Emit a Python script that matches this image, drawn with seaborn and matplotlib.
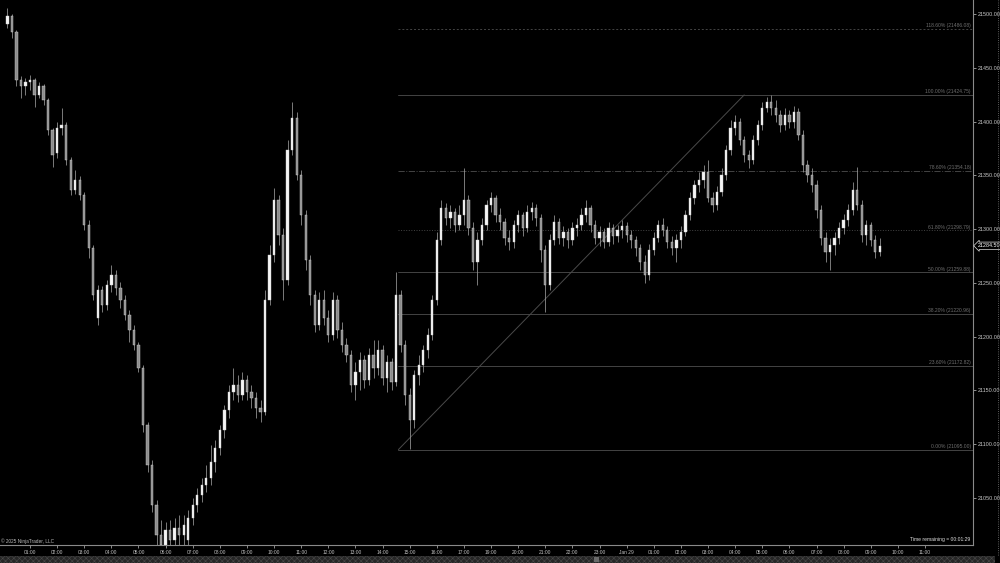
import numpy as np
import pandas as pd
import matplotlib
matplotlib.use("Agg")
import matplotlib.pyplot as plt
import seaborn as sns
from matplotlib.patches import Rectangle
from matplotlib.lines import Line2D

# ---------------- data (NQ 10-minute bars) ----------------
day1_open = [
    21490.75, 21498, 21483.25, 21438.5, 21433, 21436.75, 21438.5, 21424.75, 21433, 21420,
    21392, 21370.75, 21394, 21396.75, 21364.25, 21336.25, 21345.5, 21331.75, 21303.75, 21282.5,
    21217.25, 21243.25, 21229.5, 21248, 21257.25, 21245.25, 21234, 21220, 21206, 21192.25,
    21170.75, 21117.75, 21080.5, 21043.5, 21015.5, 21006.25, 21020, 21010.75, 21022, 21015.5,
    21010.75, 21031.25, 21043.5, 21052.75, 21062, 21068.5, 21083.25, 21096.25, 21113, 21131.75,
    21148.5, 21155, 21145.75, 21159.5, 21148.5, 21143, 21133.5, 21129.75, 21234, 21275.75,
    21327, 21294.5, 21252.5, 21373.5, 21403.25, 21350.25, 21313, 21271.25, 21238.75, 21210.75,
    21234, 21217.25, 21201.5, 21234, 21206, 21192.25, 21183, 21155, 21167, 21178.25,
    21159.5, 21183, 21170.75, 21187.5, 21161.5, 21176.25, 21157.75, 21238.75, 21192.25, 21145.75,
    21122.5, 21164.25, 21173.5, 21187.5, 21201.5, 21234, 21289.75, 21319.5, 21310.25, 21315.75,
    21303.75, 21313]
day1_high = [
    21505.5, 21500, 21485, 21442.25, 21440.5, 21443.25, 21440.5, 21436.75, 21435, 21421.75,
    21394, 21399.5, 21412.5, 21399.5, 21367, 21355, 21349.25, 21334.5, 21308.5, 21285.25,
    21248, 21247, 21252.5, 21266.5, 21262, 21250.75, 21238.75, 21224.75, 21210.75, 21195,
    21173.5, 21120.5, 21085.25, 21048, 21029.5, 21027.5, 21029.5, 21031.25, 21034, 21034,
    21038.75, 21049.75, 21059.25, 21068.5, 21080.5, 21099.25, 21103.75, 21117.75, 21136.25, 21154.75,
    21170.75, 21164.25, 21167, 21164.25, 21155, 21148.5, 21141, 21243.25, 21285.25, 21338.25,
    21331.75, 21301, 21382.75, 21418, 21408.75, 21355, 21317.75, 21275.75, 21243.25, 21241.5,
    21243.25, 21224.75, 21241.5, 21238.75, 21213.5, 21198.75, 21187.5, 21176.25, 21185.5, 21183,
    21189.5, 21196.75, 21196.75, 21192.25, 21182.75, 21180, 21260, 21243.25, 21196.75, 21152.25,
    21169, 21183, 21192.25, 21208, 21238.75, 21297.25, 21327, 21324.25, 21322.5, 21319.5,
    21322.5, 21356.75]
day1_low = [
    21487, 21477.75, 21433, 21421.75, 21424.75, 21429.25, 21413.5, 21421.75, 21415.5, 21387.5,
    21357.75, 21366, 21387.5, 21359.5, 21331.75, 21332.5, 21327, 21299, 21273, 21234,
    21210.75, 21222.75, 21224.75, 21241.5, 21238.75, 21226.5, 21215.5, 21195, 21187.5, 21167,
    21111.25, 21074, 21036.75, 21003.5, 20992, 20992, 20997, 21001.5, 21003.5, 21006.25,
    21006.25, 21024.75, 21036.75, 21046, 21055.5, 21062, 21074, 21089.75, 21105.75, 21124.25,
    21141, 21139, 21141, 21141, 21133.5, 21124.25, 21120.5, 21127, 21229.5, 21269.25,
    21285.25, 21234, 21248, 21369, 21345.5, 21303.75, 21261.75, 21229.5, 21204.25, 21206,
    21210.75, 21195, 21196.75, 21198.75, 21185.5, 21176.25, 21148.5, 21141, 21150.25, 21152.25,
    21154.75, 21161.5, 21164.25, 21154.75, 21148.5, 21150.25, 21154, 21185.5, 21136.5, 21095.5,
    21115, 21155, 21167, 21180, 21196.75, 21229.5, 21285.25, 21303.75, 21301, 21297.25,
    21299, 21303.75]
day1_close = [
    21498, 21483.25, 21438.5, 21433, 21436.75, 21438.5, 21424.75, 21433, 21420, 21392,
    21369, 21394, 21396.75, 21364.25, 21336.25, 21345.5, 21331.75, 21303.75, 21282.5, 21238.75,
    21243.25, 21229.5, 21248, 21257.25, 21245.25, 21234, 21220, 21206, 21192.25, 21170.75,
    21117.75, 21080.5, 21043.5, 21015.5, 21006.25, 21020, 21010.75, 21022, 21015.5, 21024.75,
    21031.25, 21043.5, 21052.75, 21062, 21068.5, 21083.25, 21096.25, 21113, 21131.75, 21148.5,
    21155, 21145.75, 21159.5, 21148.5, 21143, 21133.5, 21129.75, 21234, 21275.75, 21327,
    21294.5, 21252.5, 21373.5, 21403.25, 21350.25, 21313, 21271.25, 21238.75, 21210.75, 21234,
    21217.25, 21201.5, 21234, 21206, 21192.25, 21183, 21155, 21167, 21178.25, 21159.5,
    21183, 21170.75, 21187.5, 21161.5, 21176.25, 21157.75, 21238.75, 21192.25, 21145.75, 21122.5,
    21164.25, 21173.5, 21187.5, 21201.5, 21234, 21289.75, 21319.5, 21310.25, 21315.75, 21303.75,
    21313, 21327]

day2_open = [
    21327, 21301, 21269.25, 21289.75, 21303.75, 21322.5, 21328.75, 21313, 21306.5, 21291.75,
    21288, 21303.75, 21313, 21301, 21315.75, 21319.5, 21310.25, 21280.5, 21248, 21289.75,
    21306.5, 21291.75, 21297.25, 21289.75, 21301, 21303.75, 21313, 21319.5, 21303.75, 21291.75,
    21297.25, 21288, 21301, 21293.5, 21299, 21302.75, 21294.5, 21289.75, 21282.5, 21269.25,
    21257.25, 21280.5, 21291.75, 21303.75, 21299, 21288, 21282.5, 21289.75, 21297.25, 21313,
    21329, 21341, 21345.5, 21353, 21329, 21322.5, 21334.5, 21350.25, 21373.5, 21394,
    21399.5, 21382.75, 21369, 21364.25, 21382.75, 21396.75, 21412.5, 21418, 21412.5, 21406,
    21396.75, 21406, 21399.5, 21408.75, 21387.5, 21359.5, 21350.25, 21341, 21317.75, 21291.75,
    21278.75, 21285.25, 21291.75, 21301, 21308.5, 21317.75, 21336.25, 21322.5, 21294.5, 21303.75,
    21289.75, 21278.75]
day2_high = [
    21331.75, 21306.5, 21297.25, 21310.25, 21327, 21334.5, 21331.75, 21319.5, 21310.25, 21299,
    21308.5, 21317.75, 21315.75, 21322.5, 21325, 21323.25, 21314, 21285.25, 21295.5, 21313,
    21310.25, 21302.75, 21301, 21306.5, 21310.25, 21319.5, 21327, 21322.5, 21308.5, 21302.75,
    21301, 21306.5, 21304.75, 21303.75, 21308.5, 21306.5, 21299, 21293.5, 21286, 21275.75,
    21286, 21297.25, 21308.5, 21310.25, 21302.75, 21293.5, 21295.5, 21302.75, 21317.75, 21334.5,
    21345.5, 21353, 21359.5, 21364.25, 21334.5, 21340, 21356.75, 21378.25, 21401.5, 21406,
    21403.25, 21386.5, 21373.5, 21387.5, 21401.5, 21418, 21422.75, 21424.75, 21420, 21410.75,
    21412.5, 21410.75, 21414.5, 21412.5, 21392, 21364.25, 21356.75, 21345.5, 21322.5, 21297.25,
    21291.75, 21297.25, 21306.5, 21314, 21323.25, 21343.75, 21357.75, 21327, 21308.5, 21306.5,
    21294.5, 21291.75]
day2_low = [
    21294.5, 21262, 21248, 21285.25, 21299, 21315.75, 21306.5, 21299, 21285.25, 21280.5,
    21282.5, 21297.25, 21293.5, 21297.25, 21308.5, 21302.75, 21269.25, 21222.75, 21243.25, 21285.25,
    21286, 21284.25, 21282.5, 21285.25, 21293.5, 21299, 21306.5, 21297.25, 21286, 21284.25,
    21282.5, 21284.25, 21286, 21288, 21291.75, 21288, 21282.5, 21275, 21262, 21249.75,
    21252.5, 21275.75, 21288, 21293.5, 21282.5, 21275.75, 21269.25, 21282.5, 21293.5, 21308.5,
    21323.25, 21334.5, 21338.25, 21325, 21315.75, 21317.75, 21330.75, 21345.5, 21369, 21387.5,
    21378.25, 21362.25, 21356.75, 21360.5, 21378.25, 21392, 21408.75, 21406, 21399.5, 21390.25,
    21392, 21394, 21394, 21382.75, 21353, 21343.75, 21334.5, 21310.25, 21285.25, 21269.25,
    21262, 21275.75, 21286, 21295.5, 21302.75, 21313, 21317.75, 21288, 21285.25, 21284.25,
    21273, 21274.75]
day2_close = [
    21301, 21269.25, 21289.75, 21303.75, 21322.5, 21328.75, 21313, 21306.5, 21291.75, 21288,
    21303.75, 21313, 21301, 21315.75, 21319.5, 21310.25, 21280.5, 21248, 21289.75, 21306.5,
    21291.75, 21297.25, 21289.75, 21301, 21303.75, 21313, 21319.5, 21303.75, 21291.75, 21297.25,
    21288, 21301, 21293.5, 21299, 21302.75, 21294.5, 21289.75, 21282.5, 21269.25, 21257.25,
    21280.5, 21291.75, 21303.75, 21299, 21288, 21282.5, 21289.75, 21297.25, 21313, 21329,
    21341, 21345.5, 21353, 21329, 21322.5, 21334.5, 21350.25, 21373.5, 21394, 21399.5,
    21382.75, 21369, 21364.25, 21382.75, 21396.75, 21412.5, 21418, 21412.5, 21406, 21396.75,
    21406, 21399.5, 21408.75, 21387.5, 21359.5, 21350.25, 21341, 21317.75, 21291.75, 21278.75,
    21285.25, 21291.75, 21301, 21308.5, 21317.75, 21336.25, 21322.5, 21294.5, 21303.75, 21289.75,
    21278.75, 21284.5]

session1 = ("2025-01-28 00:10", "2025-01-28 17:00")
session2 = ("2025-01-28 18:10", "2025-01-29 09:20")
break_start = "2025-01-28 17:00"

fib_anchor_times = ["2025-01-28 14:35", "2025-01-29 04:20"]
fib_anchor_prices = [21095.00, 21424.75]
fib_levels = [0.0, 23.6, 38.2, 50.0, 61.8, 78.6, 100.0, 118.6]
fib_styles = ["-", "-", "-", "-", ":", "-.", "-", (0, (2, 2))]

y_ticks = [21050, 21100, 21150, 21200, 21250, 21300, 21350, 21400, 21450, 21500]
last_price_label = "21284.50"
copyright_text = "\u00a9 2025 NinjaTrader, LLC"
timer_text = "Time remaining = 00:01:29"

# ---------------- helpers ----------------
base = pd.Timestamp("2025-01-28 00:00")
brk = pd.Timestamp(break_start)


def slot(times):
    times = pd.DatetimeIndex(times)
    h = (times - base) / pd.Timedelta(hours=1)
    return np.where(times > brk, h - 1.0, h)


times = pd.date_range(*session1, freq="10min").append(pd.date_range(*session2, freq="10min"))
o = np.array(day1_open + day2_open)
h = np.array(day1_high + day2_high)
l = np.array(day1_low + day2_low)
c = np.array(day1_close + day2_close)
df = pd.DataFrame({"time": times, "open": o, "high": h, "low": l, "close": c})
df["s"] = slot(df["time"])

tick_times = [t for t in pd.date_range("2025-01-28 01:00", "2025-01-29 11:00", freq="1h")
              if not (t.day == 28 and t.hour == 18)]
tick_labels = ["Jan 29" if t.hour == 0 else t.strftime("%H:%M") for t in tick_times]
tick_s = slot(tick_times)

# ---------------- style ----------------
sns.set_theme(style="dark", rc={"axes.facecolor": "black", "figure.facecolor": "black",
                                "axes.grid": False, "hatch.linewidth": 0.4})
plt.rcParams["font.family"] = ["Liberation Sans", "DejaVu Sans"]

fig = plt.figure(figsize=(10, 5.63), dpi=100, facecolor="black")
ax = fig.add_axes([0, 18 / 563, 0.973, 545 / 563])
ax.set_facecolor("black")

xmin, xmax = -0.106, 35.77
ax.set_xlim(xmin, xmax)
ax.set_ylim(21006.3, 21513)

# fibonacci retracement
fs = slot(fib_anchor_times)
p0, p1 = fib_anchor_prices
for lvl, st in zip(fib_levels, fib_styles):
    price = p0 + (p1 - p0) * lvl / 100.0
    ax.plot([fs[0], xmax], [price, price], color="#444444", lw=0.7, ls=st, zorder=1)
    ax.text(xmax - 0.08, price + 0.6, f"{lvl:.2f}% ({price:.2f})", ha="right", va="bottom",
            fontsize=3.6, color="#6e6e6e", zorder=4)
sns.lineplot(x=list(fs), y=[p0, p1], ax=ax, color="#4a4a4a", lw=0.7, zorder=1)

# candles
up = df["close"] >= df["open"]
ax.vlines(df["s"], df["low"], df["high"], colors="#9c9c9c", linewidth=0.55, zorder=2)
ax.bar(df["s"], np.maximum((df["close"] - df["open"]).abs(), 0.6),
       bottom=np.minimum(df["open"], df["close"]), width=0.085,
       color=np.where(up, "#f5f5f5", "#8c8c8c"), edgecolor="#cfcfcf",
       linewidth=0.3, zorder=3)

# axes
ax.yaxis.tick_right()
ax.set_yticks(y_ticks)
ax.set_yticklabels([f"{v:.2f}" for v in y_ticks])
ax.set_xticks(tick_s)
ax.set_xticklabels(tick_labels)
ax.tick_params(axis="y", which="both", right=True, left=False, labelsize=3.9,
               colors="#c8c8c8", length=2, width=0.5, pad=1.2)
ax.tick_params(axis="x", bottom=True, labelsize=3.5, colors="#c0c0c0",
               length=2, width=0.5, pad=1.6)
for side in ["left", "top"]:
    ax.spines[side].set_visible(False)
for side in ["right", "bottom"]:
    ax.spines[side].set_visible(True)
    ax.spines[side].set_color("#8a8a8a")
    ax.spines[side].set_linewidth(0.8)
ax.set_xlabel("")
ax.set_ylabel("")

# last price tag
ax.annotate(last_price_label, xy=(1.0, c[-1]), xycoords=("axes fraction", "data"),
            xytext=(3.4, 0), textcoords="offset points", ha="left", va="center",
            fontsize=3.9, color="white",
            bbox=dict(boxstyle="larrow,pad=0.22", fc="black", ec="#e0e0e0", lw=0.5),
            annotation_clip=False, zorder=6)

# footer texts
ax.text(0.001, 0.0075, copyright_text, transform=ax.transAxes, ha="left", va="center",
        fontsize=3.4, color="#bdbdbd")
ax.text(0.997, 0.011, timer_text, transform=ax.transAxes, ha="right", va="center",
        fontsize=3.6, color="#dedede")

# scroll bar and right border
fig.add_artist(Rectangle((0, 0), 0.995, 7 / 563, transform=fig.transFigure,
                         facecolor="#262626", edgecolor="#4a4a4a", hatch="xxxxxx", lw=0))
fig.add_artist(Rectangle((0.594, 0.002), 0.005, 5 / 563, transform=fig.transFigure,
                         facecolor="#6a6a6a", edgecolor="none"))
fig.add_artist(Line2D([0.998, 0.998], [8 / 563, 1], transform=fig.transFigure,
                      color="#7a7a7a", ls=":", lw=0.6))

fig.savefig("out.png", dpi=100, facecolor="black")
